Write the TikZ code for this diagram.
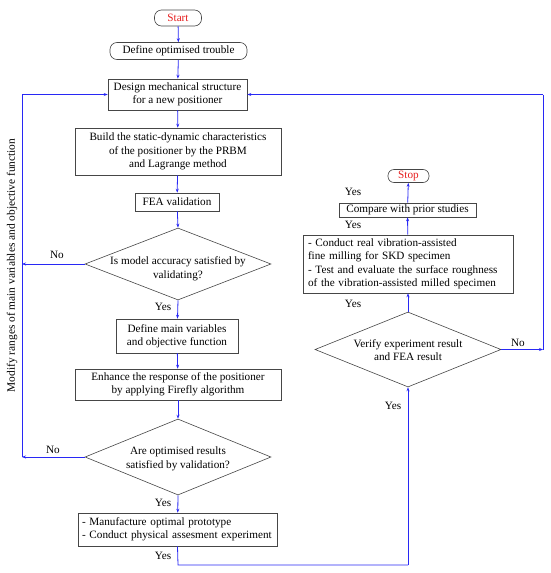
\documentclass[tikz,border=0pt]{standalone}
\usepackage{fontspec}
\setmainfont{Liberation Serif}
\usetikzlibrary{shapes.geometric,arrows.meta}
\definecolor{linkblue}{RGB}{40,40,245}
\definecolor{boxgray}{RGB}{70,70,70}
\definecolor{startred}{RGB}{230,30,30}
\begin{document}
\begin{tikzpicture}[x=1pt,y=-1pt,
  every node/.style={font=\fontsize{11.2}{13.5}\selectfont, text=black},
  procbox/.style={draw=boxgray, line width=0.6pt, rectangle, inner sep=0pt, align=center},
  termbox/.style={draw=boxgray, line width=0.6pt, rectangle, rounded corners=7pt, inner sep=0pt, align=center},
  decbox/.style={draw=boxgray, line width=0.6pt, diamond, inner sep=0pt},
  lbl/.style={inner sep=0pt},
  link/.style={draw=linkblue, line width=0.8pt, -{Stealth[length=4pt,width=3pt]}},
  plain/.style={draw=linkblue, line width=0.8pt}]
\useasboundingbox (0,0) rectangle (550,573);

% left column
\node[termbox, minimum width=47pt, minimum height=16pt] (start) at (178,18) {\textcolor{startred}{Start}};
\node[termbox, minimum width=137pt, minimum height=17pt] (define) at (178.5,51) {Define optimised trouble};
\node[procbox, minimum width=139pt, minimum height=31pt] (design) at (177.5,94.5) {Design mechanical structure\\for a new positioner};
\node[procbox, minimum width=206pt, minimum height=47pt] (build) at (178,151.5) {Build the static-dynamic characteristics\\of the positioner by the PRBM\\and Lagrange method};
\node[procbox, minimum width=84pt, minimum height=18pt] (fea) at (177,202) {FEA validation};
\node[decbox, minimum width=186pt, minimum height=72pt] (d1) at (178,264) {};
\node[lbl, align=center] (d1t) at (178,269) {Is model accuracy satisfied by\\validating?};
\node[procbox, minimum width=122pt, minimum height=34pt] (defmain) at (177,336) {Define main variables\\and objective function};
\node[procbox, minimum width=206pt, minimum height=31pt] (enhance) at (178,384.5) {Enhance the response of the positioner\\by applying Firefly algorithm};
\node[decbox, minimum width=186pt, minimum height=76pt] (d2) at (178,457) {};
\node[lbl, align=center] (d2t) at (178,459) {Are optimised results\\satisfied by validation?};
\node[procbox, minimum width=199pt, minimum height=33pt, align=left, text width=191pt] (manuf) at (177.5,529.5) {- Manufacture optimal prototype\\- Conduct physical assesment experiment};

% right column
\node[termbox, minimum width=41pt, minimum height=13pt, rounded corners=6pt] (stop) at (408.5,176) {\textcolor{startred}{Stop}};
\node[procbox, minimum width=137pt, minimum height=14pt] (compare) at (407.5,210) {Compare with prior studies};
\node[procbox, minimum width=210pt, minimum height=58pt, align=left, text width=200pt] (conduct) at (408,264) {- Conduct real vibration-assisted\\fine milling for SKD specimen\\- Test and evaluate the surface roughness\\of the vibration-assisted milled specimen};
\node[decbox, minimum width=186pt, minimum height=75pt] (d3) at (408,349.5) {};
\node[lbl, align=center] (d3t) at (408,350) {Verify experiment result\\and FEA result};

% coordinates
\coordinate (lnoA) at (22,264);
\coordinate (lnoB) at (22,457);
\coordinate (ltop) at (22,94.5);
\coordinate (bl) at (178,565);
\coordinate (br) at (408,565);
\coordinate (rno) at (543,349.5);
\coordinate (rtop) at (543,94.5);

% main flow
\draw[link] (start) -- (define);
\draw[link] (define) -- (design);
\draw[link] (design) -- (build);
\draw[link] (build) -- (fea);
\draw[link] (fea) -- (d1.north);
\draw[link] (d1.south) -- (defmain);
\draw[link] (defmain) -- (enhance);
\draw[link] (enhance) -- (d2.north);
\draw[link] (d2.south) -- (manuf);
\draw[plain] (manuf.south) -- (bl) -- (br);
\draw[link] (br) -- (d3.south);
\draw[link] (d3.north) -- (conduct);
\draw[link] (conduct) -- (compare);
\draw[link] (compare) -- (stop);

% left loop
\draw[link] (d1.west) -- (lnoA);
\draw[link] (d2.west) -- (lnoB);
\draw[plain] (lnoB) -- (ltop);
\draw[link] (ltop) -- (design.west);

% right loop
\draw[link] (d3.east) -- (rno);
\draw[plain] (rno) -- (rtop);
\draw[link] (rtop) -- (design.east);

% labels
\node[lbl] (no1) at (57,255) {No};
\node[lbl] (no2) at (53,450) {No};
\node[lbl] (no3) at (518,343) {No};
\node[lbl] (y1) at (163,307) {Yes};
\node[lbl] (y2) at (163,503) {Yes};
\node[lbl] (y3) at (163,556) {Yes};
\node[lbl] (y4) at (393,406) {Yes};
\node[lbl] (y5) at (353,304) {Yes};
\node[lbl] (y6) at (353,225) {Yes};
\node[lbl] (y7) at (353,192) {Yes};
\node[lbl, rotate=90, font=\fontsize{11.4}{13.5}\selectfont] (modify) at (12,265.5) {Modify ranges of main variables and objective function};
\end{tikzpicture}
\end{document}
